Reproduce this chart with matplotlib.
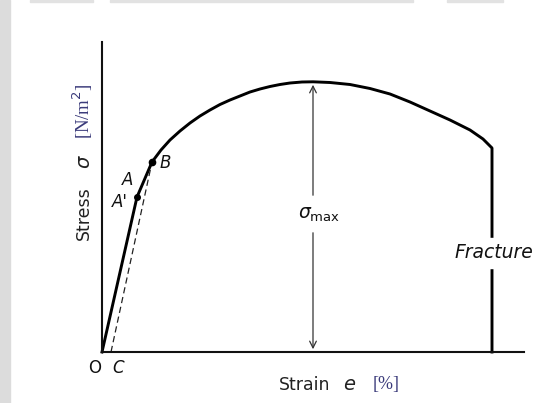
import numpy as np
import matplotlib
matplotlib.use("Agg")
import matplotlib.pyplot as plt
from matplotlib.patches import Rectangle

# stress-strain curve for a ductile material (arbitrary units)
strain = [0.0, 3.5, 5.0, 5.9, 6.8, 7.8, 8.8, 9.8, 10.8, 11.8, 12.8, 13.8,
          14.8, 15.8, 16.8, 17.8, 18.8, 20.0, 21.1, 22.8, 24.8, 26.8, 28.8,
          30.8, 32.8, 34.8, 36.8, 38.1, 39.0, 39.0]
stress = [0.0, 15.5, 19.0, 20.2, 21.2, 22.1, 22.9, 23.6, 24.2, 24.75, 25.2,
          25.6, 26.0, 26.3, 26.55, 26.75, 26.9, 27.0, 27.02, 26.95, 26.75,
          26.35, 25.8, 25.0, 24.1, 23.2, 22.2, 21.3, 20.4, 0.0]

# marked points
pt_A1 = (3.5, 15.5)   # A'
pt_B = (5.0, 19.0)
pt_C = (0.9, 0.0)     # permanent set after unloading from B
sigma_max = 27.0
strain_at_max = 21.1
fracture_strain = 39.0

fig = plt.figure(figsize=(5.46, 4.03), dpi=100)
ax = fig.add_axes([0, 0, 1, 1])
ax.set_xlim(-10.2, 44.4)
ax.set_ylim(-5.1, 35.2)

# grey page edges
fig.patches.append(Rectangle((0, 0), 10 / 546, 1, transform=fig.transFigure,
                             color="#dcdcdc", zorder=0))
for x0, x1 in [(30, 93), (110, 413), (447, 503)]:
    fig.patches.append(Rectangle((x0 / 546, 1 - 1.5 / 403), (x1 - x0) / 546,
                                 1.5 / 403, transform=fig.transFigure,
                                 color="#e2e2e2", zorder=0))

for s in ["top", "right"]:
    ax.spines[s].set_visible(False)
ax.spines["left"].set_position(("data", 0))
ax.spines["bottom"].set_position(("data", 0))
ax.spines["left"].set_bounds(0, 31.0)
ax.spines["bottom"].set_bounds(0, 42.2)
for s in ["left", "bottom"]:
    ax.spines[s].set_linewidth(1.5)
    ax.spines[s].set_color("#111111")
ax.set_xticks([])
ax.set_yticks([])
ax.patch.set_alpha(0)

# main curve
ax.plot(strain, stress, color="black", lw=2.1, solid_joinstyle="round")

# unloading line B -> C (parallel to the elastic part)
ax.plot([pt_C[0], pt_B[0]], [pt_C[1], pt_B[1]], color="#222222", lw=0.9,
        dashes=(5, 3))

ax.plot(*pt_A1, "o", color="black", ms=4)
ax.plot(*pt_B, "o", color="black", ms=4.5)

lab = dict(fontsize=12, fontstyle="italic", color="#111111")
ax.text(2.6, 17.2, "A", ha="center", va="center", **lab)
ax.text(1.8, 15.0, "A'", ha="center", va="center", **lab)
ax.text(6.3, 18.9, "B", ha="center", va="center", **lab)
ax.text(-0.7, -1.6, "O", ha="center", va="center", fontsize=12, color="#111111")
ax.text(1.6, -1.6, "C", ha="center", va="center", **lab)

# sigma max dimension arrow
arrow = dict(arrowstyle="->", color="#333333", lw=0.9, mutation_scale=12)
ax.annotate("", xy=(strain_at_max, sigma_max), xytext=(strain_at_max, 15.4),
            arrowprops=arrow)
ax.annotate("", xy=(strain_at_max, 0), xytext=(strain_at_max, 12.2),
            arrowprops=arrow)
ax.text(strain_at_max + 0.6, 13.7, r"$\sigma_{\mathrm{max}}$", ha="center",
        va="center", fontsize=13.5, color="#111111")

# fracture label breaks the vertical line
ax.add_patch(Rectangle((fracture_strain - 0.5, 8.4), 1.0, 3.0, color="white",
                       zorder=3))
ax.text(fracture_strain + 0.2, 9.9, "Fracture", ha="center", va="center",
        fontsize=13.5, fontstyle="italic", color="#111111", zorder=4)

# axis titles
ax.text(-1.8, 13.9, "Stress", rotation=90, ha="center", va="center",
        fontsize=12.5, color="#222222")
ax.text(-1.7, 19.0, r"$\sigma$", rotation=90, ha="center", va="center",
        fontsize=14, color="#222222")
ax.text(-1.9, 24.1, r"[N/m$^2$]", rotation=90, ha="center", va="center",
        fontsize=13.5, color="#3a3a7a", family="Liberation Serif")

ax.text(20.3, -3.3, "Strain", ha="center", va="center", fontsize=12.5,
        color="#222222")
ax.text(24.8, -3.3, r"$e$", ha="center", va="center", fontsize=14,
        color="#222222")
ax.text(28.4, -3.3, "[%]", ha="center", va="center", fontsize=13,
        color="#3a3a7a", family="Liberation Serif")

fig.savefig("out.png", dpi=100)
